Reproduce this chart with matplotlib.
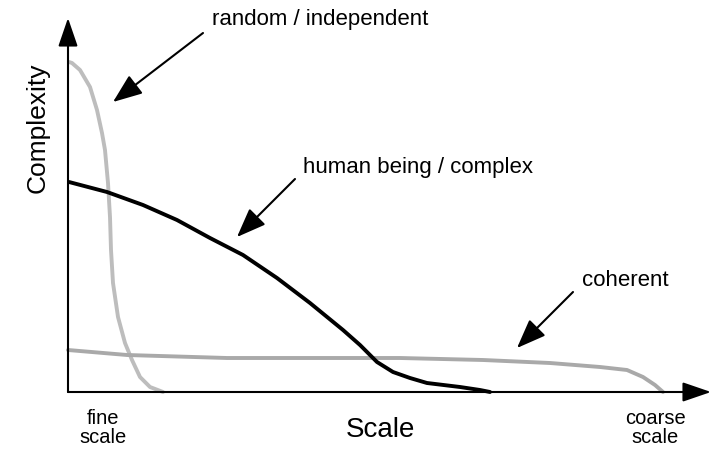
import matplotlib.pyplot as plt

plt.rcParams['font.family'] = ['Liberation Sans', 'DejaVu Sans']

# curves (scale, complexity), origin at the axes corner
random_x = [1, 4, 12, 22, 29, 34, 37, 40, 42, 43, 45, 50, 57, 64, 72, 82, 95]
random_y = [330, 329, 322, 305, 282, 259, 242, 209, 175, 142, 109, 75, 49, 32, 15, 5, 0]

human_x = [1, 39, 75, 109, 142, 175, 209, 242, 275, 292, 309, 325, 342, 359, 392, 412, 422]
human_y = [210, 200, 187, 172, 154, 137, 114, 89, 62, 47, 30, 20, 14, 9, 5, 2, 0]

coherent_x = [0, 59, 159, 292, 332, 415, 482, 532, 559, 575, 587, 595]
coherent_y = [42, 37, 34, 34, 34, 32, 29, 25, 22, 15, 7, 0]

labels = ["random / independent", "human being / complex", "coherent"]

fig = plt.figure(figsize=(7.13, 4.49), dpi=100)
ax = fig.add_axes([0, 0, 1, 1])
ax.set_xlim(-68, 645)
ax.set_ylim(-57, 392)
ax.axis('off')

ax.plot(random_x, random_y, color='#bdbdbd', lw=2.8, solid_capstyle='round', solid_joinstyle='round')
ax.plot(coherent_x, coherent_y, color='#a9a9a9', lw=2.8, solid_capstyle='round', solid_joinstyle='round')
ax.plot(human_x, human_y, color='black', lw=2.8, solid_capstyle='round', solid_joinstyle='round')

# axes with arrowheads
arr = dict(arrowstyle='-|>,head_length=1.75,head_width=0.6', color='black', lw=1.5,
           shrinkA=0, shrinkB=0)
ax.annotate('', xy=(643, 0), xytext=(0, 0), arrowprops=arr)
ax.annotate('', xy=(0, 374), xytext=(0, 0), arrowprops=arr)

# labels with pointer arrows
ptr = dict(arrowstyle='-|>,head_length=1.8,head_width=0.7', color='black', lw=1.5,
           shrinkA=0, shrinkB=0)
ax.annotate('', xy=(45, 290), xytext=(135, 359), arrowprops=ptr)
ax.text(144, 372, labels[0], fontsize=16, va='center', ha='left')
ax.annotate('', xy=(169, 155), xytext=(227, 213), arrowprops=ptr)
ax.text(235, 225, labels[1], fontsize=16, va='center', ha='left')
ax.annotate('', xy=(449, 44), xytext=(505, 100), arrowprops=ptr)
ax.text(514, 112, labels[2], fontsize=16, va='center', ha='left')

ax.text(-30, 264, "Complexity", fontsize=19, rotation=90, va='center', ha='center')
ax.text(312, -38, "Scale", fontsize=20, va='center', ha='center')
ax.text(35, -36, "fine\nscale", fontsize=14.5, va='center', ha='center', linespacing=1.0)
ax.text(587, -36, "coarse\nscale", fontsize=14.5, va='center', ha='center', linespacing=1.0)

fig.savefig('out.png', dpi=100)
